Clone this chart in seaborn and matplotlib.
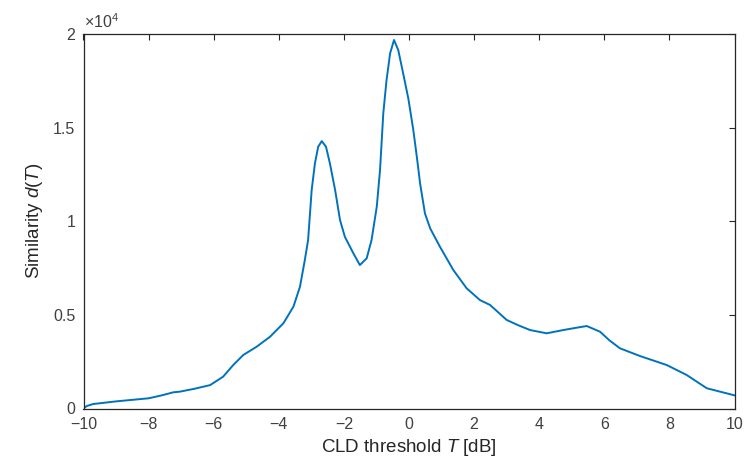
import numpy as np
import pandas as pd
import matplotlib
matplotlib.use("Agg")
import matplotlib.pyplot as plt
import seaborn as sns
from matplotlib.ticker import FuncFormatter

# CLD threshold T [dB] and similarity d(T)
T = [-10, -9.9, -9.7, -9.0, -8.0, -7.6, -7.24, -7.04, -6.6, -6.11, -5.71,
     -5.40, -5.09, -4.68, -4.27, -3.86, -3.55, -3.35, -3.20, -3.10, -2.99,
     -2.89, -2.79, -2.68, -2.55, -2.43, -2.27, -2.12, -1.97, -1.71, -1.51,
     -1.30, -1.15, -0.99, -0.89, -0.79, -0.69, -0.58, -0.46, -0.33, -0.18,
     -0.02, 0.13, 0.24, 0.34, 0.49, 0.65, 0.95, 1.36, 1.77, 2.18, 2.49,
     3.00, 3.35, 3.72, 4.23, 4.74, 5.10, 5.46, 5.87, 6.15, 6.48, 7.10,
     7.92, 8.53, 9.15, 9.60, 9.96, 10]
d = [0, 133, 240, 380, 545, 700, 865, 900, 1050, 1250, 1700,
     2320, 2860, 3300, 3830, 4550, 5440, 6500, 7930, 9000, 11670,
     13090, 13980, 14280, 13980, 13090, 11670, 10070, 9170, 8290, 7660,
     8020, 9000, 10780, 12740, 15760, 17540, 18970, 19680, 19140, 17900,
     16550, 14900, 13450, 12030, 10420, 9620, 8640, 7400, 6420, 5790, 5530,
     4730, 4450, 4190, 4015, 4190, 4300, 4405, 4100, 3650, 3215, 2800,
     2320, 1790, 1080, 880, 720, 700]

xticks = [-10, -8, -6, -4, -2, 0, 2, 4, 6, 8, 10]
yticks = [0, 5000, 10000, 15000, 20000]

sns.set_style("white")
plt.rcParams['font.family'] = ['Liberation Sans', 'DejaVu Sans']
plt.rcParams['mathtext.fontset'] = 'custom'
plt.rcParams['mathtext.it'] = 'Liberation Sans:italic'
plt.rcParams['mathtext.rm'] = 'Liberation Sans'

df = pd.DataFrame({'T': T, 'd': d})

fig = plt.figure(figsize=(7.46, 4.68), dpi=100)
ax = fig.add_axes([83.5 / 746, 1 - 408.5 / 468, 651 / 746, 374.5 / 468])
sns.lineplot(data=df, x='T', y='d', ax=ax, color='#0072BD', linewidth=1.4)

ax.set_xlim(-10, 10)
ax.set_ylim(0, 20000)
ax.set_xticks(xticks)
ax.set_yticks(yticks)
ax.yaxis.set_major_formatter(FuncFormatter(lambda v, p: f"{v / 1e4:g}"))
ax.xaxis.set_major_formatter(FuncFormatter(lambda v, p: f"{v:g}".replace('-', '\u2212')))

for s in ax.spines.values():
    s.set_color('#262626')
    s.set_linewidth(0.9)
ax.tick_params(direction='in', length=4.5, width=0.8, colors='#262626',
               labelcolor='#404040', labelsize=11.5, top=True, right=True,
               pad=6)

ax.set_xlabel('CLD threshold $T$ [dB]', fontsize=13.5, color='#262626', labelpad=4)
ax.set_ylabel('Similarity $d$($T$)', fontsize=13.5, color='#262626', labelpad=6)
ax.text(0.0, 1.008, r'$\times$10$^4$', transform=ax.transAxes, fontsize=11.5,
        color='#404040', ha='left', va='bottom')

fig.savefig('out.png', dpi=100)
